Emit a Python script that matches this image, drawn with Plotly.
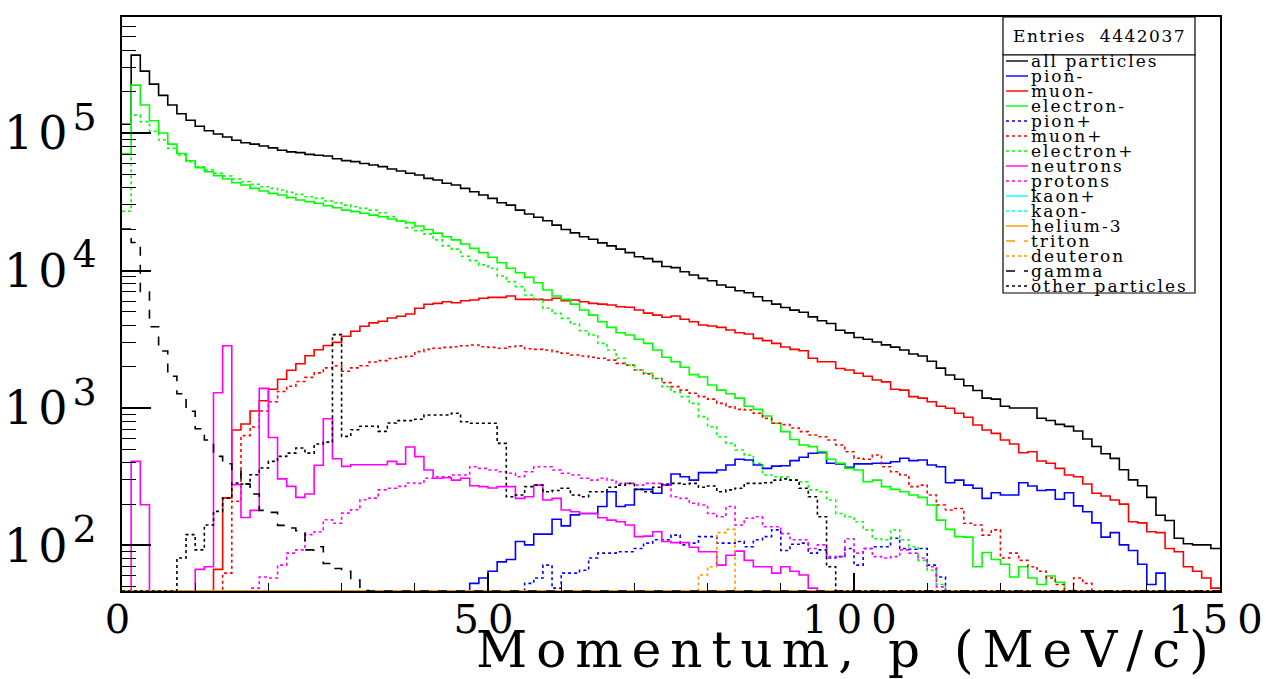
import numpy as np
import plotly.graph_objects as go

# ---------------- data (bin contents, 120 bins of 1.25 MeV/c from 0 to 150) ----------------
n_bins = 120
bin_edges = np.linspace(0.0, 150.0, n_bins + 1)

def filled(d):
    a = np.zeros(n_bins)
    for k, v in d.items():
        a[k] = v
    return a

all_particles = [
    1.16e5, 3.69e5, 2.82e5, 2.27e5, 1.88e5, 1.60e5, 1.38e5, 1.24e5, 1.12e5, 1.04e5,
    9.84e4, 9.35e4, 8.86e4, 8.5e4, 8.3e4, 8.04e4, 7.8e4, 7.5e4, 7.3e4, 7.2e4,
    7.0e4, 6.9e4, 6.8e4, 6.5e4, 6.3e4, 6.2e4, 6.0e4, 5.85e4, 5.7e4, 5.47e4,
    5.3e4, 5.1e4, 4.95e4, 4.68e4, 4.55e4, 4.31e4, 4.19e4, 3.96e4, 3.74e4, 3.54e4,
    3.35e4, 3.11e4, 2.99e4, 2.75e4, 2.58e4, 2.44e4, 2.3e4, 2.14e4, 1.99e4, 1.88e4,
    1.76e4, 1.69e4, 1.59e4, 1.51e4, 1.43e4, 1.35e4, 1.26e4, 1.22e4, 1.16e4, 1.07e4,
    1.05e4, 9.8e3, 9.27e3, 8.77e3, 8.43e3, 7.85e3, 7.55e3, 7.13e3, 6.9e3, 6.45e3,
    6.03e3, 5.7e3, 5.38e3, 5.15e3, 4.97e3, 4.6e3, 4.31e3, 4.12e3, 3.68e3, 3.52e3,
    3.26e3, 3.16e3, 3.02e3, 2.88e3, 2.77e3, 2.64e3, 2.47e3, 2.39e3, 2.19e3, 1.95e3,
    1.74e3, 1.62e3, 1.45e3, 1.34e3, 1.18e3, 1.16e3, 1.03e3, 1.0e3, 1.0e3, 1.0e3,
    842, 812, 760, 735, 680, 595, 525, 465, 430, 356,
    300, 272, 224, 166, 152, 113, 103, 101, 101, 95,
]

pion_minus = filled(dict(zip(range(38, 114), [
    53, 58, 65, 76, 79, 107, 101, 121, 121, 155,
    139, 167, 171, 171, 192, 246, 192, 197, 256, 256,
    240, 275, 331, 316, 299, 339, 339, 354, 385, 424,
    419, 385, 364, 378, 380, 414, 438, 469, 473, 396,
    392, 371, 392, 392, 396, 396, 407, 431, 414, 419,
    385, 374, 286, 299, 275, 261, 220, 242, 233, 233,
    286, 271, 251, 254, 217, 242, 194, 176, 146, 115,
    124, 101, 92, 73, 52, 63,
])))

muon_minus = filled(dict(zip(range(10, 120), [
    67, 222, 692, 765, 950, 1.13e3, 1.37e3, 1.62e3, 1.88e3, 2.1e3,
    2.4e3, 2.65e3, 2.85e3, 3.0e3, 3.33e3, 3.62e3, 3.93e3, 4.16e3, 4.28e3, 4.52e3,
    4.65e3, 4.83e3, 5.31e3, 5.68e3, 5.77e3, 5.93e3, 5.83e3, 6.03e3, 6.1e3, 6.28e3,
    6.38e3, 6.38e3, 6.53e3, 6.17e3, 6.17e3, 6.17e3, 6.1e3, 6.28e3, 6.03e3, 6.1e3,
    5.93e3, 5.77e3, 5.7e3, 5.61e3, 5.45e3, 5.4e3, 5.16e3, 4.9e3, 4.74e3, 4.57e3,
    4.67e3, 4.42e3, 4.24e3, 4.02e3, 3.95e3, 3.86e3, 3.69e3, 3.53e3, 3.45e3, 3.21e3,
    3.09e3, 2.95e3, 2.78e3, 2.67e3, 2.61e3, 2.3e3, 2.17e3, 2.17e3, 1.94e3, 1.89e3,
    1.79e3, 1.7e3, 1.6e3, 1.55e3, 1.37e3, 1.35e3, 1.21e3, 1.18e3, 1.11e3, 1.03e3,
    995, 915, 856, 752, 692, 654, 585, 547, 473, 481,
    412, 396, 364, 326, 316, 280, 240, 229, 214, 200,
    149, 146, 126, 124, 95, 90, 70, 65, 58, 49,
])))

electron_minus = filled(dict(zip(range(0, 103), [
    7.1e4, 2.23e5, 1.6e5, 1.23e5, 1.0e5, 8.3e4, 7.1e4, 6.29e4, 5.6e4, 5.23e4,
    4.89e4, 4.63e4, 4.35e4, 4.19e4, 3.96e4, 3.79e4, 3.64e4, 3.54e4, 3.39e4, 3.26e4,
    3.17e4, 3.08e4, 2.96e4, 2.86e4, 2.75e4, 2.68e4, 2.61e4, 2.53e4, 2.46e4, 2.37e4,
    2.29e4, 2.23e4, 2.11e4, 1.99e4, 1.87e4, 1.76e4, 1.67e4, 1.56e4, 1.45e4, 1.35e4,
    1.25e4, 1.14e4, 1.04e4, 9.64e3, 8.92e3, 8.15e3, 7.21e3, 6.53e3, 6.17e3, 5.7e3,
    5.16e3, 4.74e3, 4.24e3, 3.86e3, 3.53e3, 3.4e3, 3.16e3, 2.95e3, 2.64e3, 2.34e3,
    2.17e3, 1.98e3, 1.75e3, 1.68e3, 1.47e3, 1.35e3, 1.27e3, 1.18e3, 1.03e3, 978,
    874, 774, 673, 590, 538, 524, 481, 424, 396, 364,
    354, 291, 299, 268, 256, 246, 233, 224, 197, 153,
    131, 116, 115, 70, 89, 79, 73, 59, 70, 58,
    52, 60, 54,
])))

pion_plus = filled(dict(zip(range(44, 90), [
    53, 58, 72, 49, 63, 63, 66, 81, 88, 88,
    90, 90, 95, 104, 110, 110, 119, 101, 104, 116,
    116, 104, 104, 107, 98, 110, 116, 130, 92, 102,
    104, 88, 93, 81, 83, 95, 72, 95, 98, 98,
    113, 95, 94, 95, 72, 59,
])))

muon_plus = filled(dict(zip(range(11, 106), [
    63, 210, 630, 727, 950, 1.11e3, 1.32e3, 1.44e3, 1.56e3,
    1.67e3, 1.8e3, 1.96e3, 2.03e3, 1.85e3, 1.96e3, 2.03e3, 2.16e3, 2.21e3, 2.29e3,
    2.34e3, 2.38e3, 2.57e3, 2.67e3, 2.72e3, 2.76e3, 2.79e3, 2.84e3, 2.87e3, 2.79e3,
    2.76e3, 2.72e3, 2.79e3, 2.83e3, 2.7e3, 2.67e3, 2.64e3, 2.57e3, 2.5e3, 2.43e3,
    2.39e3, 2.34e3, 2.3e3, 2.23e3, 2.11e3, 2.05e3, 1.89e3, 1.77e3, 1.64e3, 1.53e3,
    1.43e3, 1.35e3, 1.28e3, 1.21e3, 1.16e3, 1.08e3, 1.02e3, 978, 967, 915,
    841, 774, 757, 715, 673, 637, 618, 585, 538, 481,
    431, 424, 455, 374, 344, 326, 268, 275, 233, 197,
    181, 186, 145, 141, 119, 130, 81, 88, 78, 70,
    65, 58, 52, 0, 58, 53,
])))

electron_plus = filled(dict(zip(range(0, 90), [
    2.7e4, 1.35e5, 1.21e5, 1.03e5, 8.9e4, 7.74e4, 6.92e4, 6.18e4, 5.69e4, 5.38e4,
    5.09e4, 4.87e4, 4.63e4, 4.42e4, 4.24e4, 4.07e4, 3.96e4, 3.85e4, 3.7e4, 3.58e4,
    3.44e4, 3.35e4, 3.2e4, 3.11e4, 2.99e4, 2.91e4, 2.83e4, 2.75e4, 2.63e4, 2.46e4,
    2.29e4, 2.05e4, 1.95e4, 1.84e4, 1.67e4, 1.51e4, 1.43e4, 1.27e4, 1.18e4, 1.1e4,
    1.04e4, 9.12e3, 8.3e3, 7.63e3, 6.63e3, 6.1e3, 5.31e3, 4.88e3, 4.49e3, 4.08e3,
    3.65e3, 3.4e3, 2.95e3, 2.64e3, 2.3e3, 2.05e3, 1.89e3, 1.79e3, 1.64e3, 1.43e3,
    1.31e3, 1.21e3, 1.08e3, 865, 731, 618, 553, 495, 455, 396,
    326, 316, 315, 300, 291, 254, 246, 214, 171, 162,
    149, 130, 112, 110, 130, 110, 98, 78, 66, 52,
])))

neutrons = filled(dict(zip(range(0, 76), [
    0, 409, 198, 0, 0, 0, 0, 0, 67, 70,
    1.29e3, 2.84e3, 277, 160, 180, 1.39e3, 610, 305, 269, 224,
    237, 383, 836, 428, 376, 387, 387, 387, 387, 409,
    391, 520, 443, 354, 308, 311, 299, 308, 272, 268,
    262, 268, 268, 220, 226, 275, 214, 220, 181, 176,
    171, 171, 159, 153, 149, 141, 116, 117, 126, 107,
    105, 105, 97, 90, 90, 72, 85, 91, 78, 70,
    70, 63, 70, 65, 61, 49,
])))

protons = filled(dict(zip(range(14, 90), [
    49, 59, 58, 72, 88, 93,
    120, 126, 154, 145, 172, 182, 215, 221, 254, 261,
    269, 285, 283, 308, 316, 316, 326, 326, 374, 364,
    354, 344, 335, 316, 344, 374, 374, 354, 335, 326,
    308, 299, 308, 299, 283, 283, 275, 283, 283, 275,
    226, 220, 203, 197, 171, 162, 192, 141, 158, 162,
    137, 137, 122, 110, 110, 95, 101, 83, 83, 112,
    88, 95, 83, 81, 83, 93, 88, 81, 70, 50,
])))

kaon_plus = filled({})
kaon_minus = filled({})
helium3 = filled({})
triton = filled({})
deuteron = filled({63: 61, 64: 70, 65: 124, 66: 131})

gamma = filled(dict(zip(range(0, 27), [
    2.0e4, 1.6e4, 7.0e3, 3.9e3, 2.6e3, 1.7e3, 1.27e3, 946, 707, 585,
    445, 393, 350, 280, 237, 180, 174, 140, 134, 128,
    93, 98, 74, 68, 65, 56, 47,
])))

other_particles = filled(dict(zip(range(6, 78), [
    81, 120, 93, 141,
    177, 221, 285, 280, 327, 366, 409, 445, 470, 512,
    470, 547, 565, 3.42e3, 622, 695, 736, 736, 676, 778,
    809, 809, 828, 889, 889, 889, 915, 794, 774, 774,
    774, 553, 226, 233, 268, 275, 246, 251, 261, 233,
    226, 246, 246, 265, 275, 283, 256, 246, 265, 280,
    283, 279, 283, 265, 271, 246, 254, 261, 283, 283,
    286, 299, 305, 299, 261, 226, 162, 70,
])))

entries = 4442037

series_names = ["all particles", "pion-", "muon-", "electron-", "pion+", "muon+",
                "electron+", "neutrons", "protons", "kaon+", "kaon-", "helium-3",
                "triton", "deuteron", "gamma", "other particles"]
series_values = [all_particles, pion_minus, muon_minus, electron_minus, pion_plus,
                 muon_plus, electron_plus, neutrons, protons, kaon_plus, kaon_minus,
                 helium3, triton, deuteron, gamma, other_particles]

x_tick_values = [0, 50, 100, 150]
y_tick_exponents = [2, 3, 4, 5]

# ---------------- styles ----------------
series_colors = ["#000000", "#0000ff", "#ff0000", "#00ff00", "#0000ff", "#ff0000",
                 "#00ff00", "#ff00ff", "#ff00ff", "#00ffff", "#00ffff", "#ff9900",
                 "#ff9900", "#ff9900", "#000000", "#000000"]
series_dash = ["solid", "solid", "solid", "solid", "dot", "dot", "dot", "solid", "dot",
               "solid", "dot", "solid", "dash", "dot", "dash", "dot"]

Y_LOG_MIN, Y_LOG_MAX = 1.669, 5.844
y_floor = 10 ** Y_LOG_MIN

W, H = 1266, 679
ML, MR, MT, MB = 122, 46, 17, 88
PW, PH = W - ML - MR, H - MT - MB

def px_x(px):
    return (px - ML) / PW

def px_y(py):
    return (H - MB - py) / PH

def wide(text, spacing):
    return "<span style='letter-spacing:%spx'>%s</span>" % (spacing, text)

SERIF = "DejaVu Serif"

fig = go.Figure()
step_x = np.append(bin_edges[:-1], bin_edges[-1])
for name, vals, col, dash in zip(series_names, series_values, series_colors, series_dash):
    v = np.asarray(vals, dtype=float)
    v = np.maximum(v, y_floor)          # ROOT draws under-range bins on the frame
    step_y = np.append(v, v[-1])
    fig.add_trace(go.Scatter(x=step_x, y=step_y, mode="lines", line_shape="hv",
                             name=name, showlegend=False,
                             line=dict(color=col, width=1.6, dash=dash)))

fig.update_layout(
    width=W, height=H, autosize=False,
    margin=dict(l=ML, r=MR, t=MT, b=MB, pad=0, autoexpand=False),
    paper_bgcolor="white", plot_bgcolor="white",
    showlegend=False,
    xaxis=dict(range=[0, 150], showgrid=False, zeroline=False, automargin=False,
               showline=True, linecolor="black", linewidth=1.5, mirror=True,
               ticks="inside", ticklen=18, tickwidth=1.5, tickcolor="black",
               tickmode="array", tickvals=x_tick_values,
               ticktext=[wide(str(v), 9) for v in x_tick_values],
               ticklabeloverflow="allow",
               minor=dict(ticks="inside", ticklen=8, tickwidth=1.2, tickcolor="black",
                          tickmode="linear", tick0=0, dtick=10, showgrid=False),
               tickfont=dict(family=SERIF, size=40, color="black"),
               ticklabelstandoff=-8),
    yaxis=dict(type="log", range=[Y_LOG_MIN, Y_LOG_MAX], showgrid=False, zeroline=False,
               automargin=False,
               showline=True, linecolor="black", linewidth=2, mirror=True,
               ticks="inside", ticklen=29, tickwidth=1.5, tickcolor="black",
               tickmode="array", tickvals=[10.0 ** k for k in y_tick_exponents],
               ticktext=[wide("10", 5) + "<sup><span style='font-size:38px'>%d</span></sup>" % k
                         for k in y_tick_exponents],
               minor=dict(ticks="inside", ticklen=14, tickwidth=1.2, tickcolor="black",
                          dtick="D1", showgrid=False),
               tickfont=dict(family=SERIF, size=46, color="black"),
               ticklabelstandoff=14),
)

# x-axis title (ROOT places it at the right end under the axis)
fig.add_annotation(xref="paper", yref="paper", x=1.0, y=px_y(650), xanchor="right",
                   yanchor="middle", showarrow=False,
                   text=wide("Momentum, p (MeV/c)", 9),
                   font=dict(family=SERIF, size=50, color="black"))

# stats box
box_l, box_r = 1003, 1195
fig.add_shape(type="rect", xref="paper", yref="paper", x0=px_x(box_l), x1=px_x(box_r),
              y0=px_y(55), y1=px_y(17), line=dict(color="black", width=1.2),
              fillcolor="white", layer="above")
fig.add_annotation(xref="paper", yref="paper", x=px_x((box_l + box_r) / 2), y=px_y(36),
                   xanchor="center", yanchor="middle", showarrow=False,
                   text=wide("Entries&nbsp;&nbsp;%d" % entries, 1.5),
                   font=dict(family=SERIF, size=17, color="black"))

# legend box
fig.add_shape(type="rect", xref="paper", yref="paper", x0=px_x(box_l), x1=px_x(box_r),
              y0=px_y(293), y1=px_y(55), line=dict(color="black", width=1.2),
              fillcolor="white", layer="above")
for i, (name, col, dash) in enumerate(zip(series_names, series_colors, series_dash)):
    yc = 61 + 15 * i
    fig.add_shape(type="line", xref="paper", yref="paper", x0=px_x(1006), x1=px_x(1028),
                  y0=px_y(yc), y1=px_y(yc), line=dict(color=col, width=1.4, dash=dash),
                  layer="above")
    fig.add_annotation(xref="paper", yref="paper", x=px_x(1029), y=px_y(yc),
                       xanchor="left", yanchor="middle", showarrow=False,
                       text=wide(name, 2),
                       font=dict(family=SERIF, size=17, color="black"))

fig.write_html("out.html")
